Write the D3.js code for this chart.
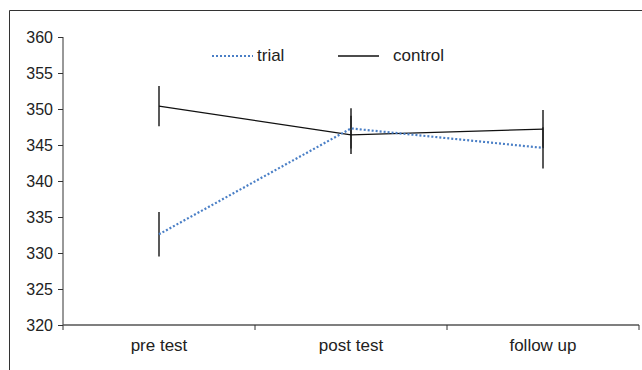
<!DOCTYPE html>
<html>
<head>
<meta charset="utf-8">
<script src="https://cdn.jsdelivr.net/npm/d3@7"></script>
<style>
  body { margin: 0; background: #fff; }
  svg text { font-family: "Liberation Sans", Arial, sans-serif; fill: #222; }
</style>
</head>
<body>
<div id="chart"></div>
<script>
const categories = ['pre test', 'post test', 'follow up'];
const trialValues = [332.6, 347.3, 344.6];
const trialErrors = [3.1, 2.8, 2.85];
const controlValues = [350.4, 346.4, 347.2];
const controlErrors = [2.8, 2.65, 2.65];
const yTicks = [320, 325, 330, 335, 340, 345, 350, 355, 360];

const width = 642, height = 370;
const margin = { top: 37, right: 3, bottom: 45, left: 63 };

const svg = d3.select('#chart').append('svg')
  .attr('width', width)
  .attr('height', height);

// outer frame (top + left edge only visible)
svg.append('path')
  .attr('d', `M9.5,${height} V10.5 H${width}`)
  .attr('fill', 'none')
  .attr('stroke', '#333')
  .attr('stroke-width', 1);

const x = d3.scaleBand()
  .domain(categories)
  .range([margin.left, width - margin.right]);

const y = d3.scaleLinear()
  .domain([320, 360])
  .range([height - margin.bottom, margin.top]);

const cx = d => x(d) + x.bandwidth() / 2;

// y axis
const yAxis = svg.append('g')
  .attr('transform', `translate(${margin.left},0)`)
  .call(d3.axisLeft(y).tickValues(yTicks).tickSize(5).tickPadding(5));
yAxis.select('.domain').attr('stroke', '#333').attr('d', `M0,${y(360)}V${y(320) + 5}`);
yAxis.selectAll('.tick line').attr('stroke', '#333');
yAxis.selectAll('.tick text').attr('font-size', 16).attr('fill', '#222');

// x axis, ticks at band edges
const xAxis = svg.append('g')
  .attr('transform', `translate(0,${y(320)})`);
xAxis.append('line')
  .attr('x1', margin.left).attr('x2', width - margin.right)
  .attr('stroke', '#555').attr('stroke-width', 1.5);
xAxis.selectAll('.edge')
  .data(categories)
  .join('line')
  .attr('class', 'edge')
  .attr('x1', d => x(d) + x.bandwidth()).attr('x2', d => x(d) + x.bandwidth())
  .attr('y1', 0).attr('y2', 5)
  .attr('stroke', '#333');
xAxis.selectAll('.lab')
  .data(categories)
  .join('text')
  .attr('class', 'lab')
  .attr('x', cx)
  .attr('y', 26)
  .attr('text-anchor', 'middle')
  .attr('font-size', 17)
  .text(d => d);

const series = [
  { name: 'control', values: controlValues, errors: controlErrors, color: '#111', dash: null, width: 1.3 },
  { name: 'trial', values: trialValues, errors: trialErrors, color: '#4a7fc6', dash: '2,2', width: 2.2 }
];

const line = d3.line()
  .x((d, i) => cx(categories[i]))
  .y(d => y(d));

series.forEach(s => {
  svg.append('g')
    .selectAll('line')
    .data(s.values)
    .join('line')
    .attr('x1', (d, i) => cx(categories[i]))
    .attr('x2', (d, i) => cx(categories[i]))
    .attr('y1', (d, i) => y(d + s.errors[i]))
    .attr('y2', (d, i) => y(d - s.errors[i]))
    .attr('stroke', '#222')
    .attr('stroke-width', 1.5);
});

series.forEach(s => {
  svg.append('path')
    .datum(s.values)
    .attr('d', line)
    .attr('fill', 'none')
    .attr('stroke', s.color)
    .attr('stroke-width', s.width)
    .attr('stroke-dasharray', s.dash);
});

// legend
const legend = svg.append('g');
legend.append('line')
  .attr('x1', 212).attr('x2', 253).attr('y1', 56).attr('y2', 56)
  .attr('stroke', '#4a7fc6').attr('stroke-width', 2.2).attr('stroke-dasharray', '2,2');
legend.append('text').attr('x', 257).attr('y', 61).attr('font-size', 17).text('trial');
legend.append('line')
  .attr('x1', 338).attr('x2', 379).attr('y1', 56).attr('y2', 56)
  .attr('stroke', '#111').attr('stroke-width', 1.3);
legend.append('text').attr('x', 393).attr('y', 61).attr('font-size', 17).text('control');
</script>
</body>
</html>
